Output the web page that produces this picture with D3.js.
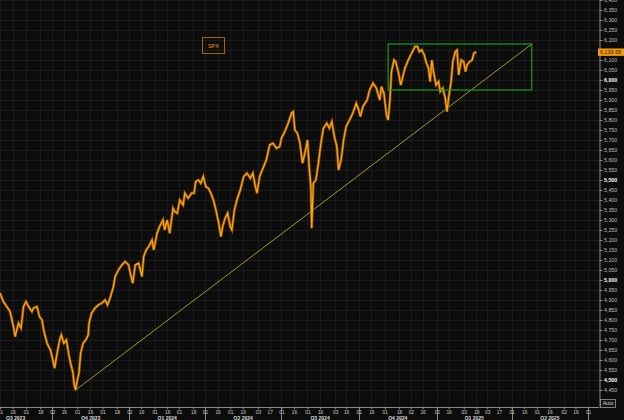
<!DOCTYPE html>
<html>
<head>
<meta charset="utf-8">
<script src="https://cdn.jsdelivr.net/npm/d3@7"></script>
<style>
  html, body { margin: 0; padding: 0; background: #0c0c0c; overflow: hidden; }
  svg { display: block; font-family: "Liberation Sans", Arial, sans-serif; }
</style>
</head>
<body>
<script>
// SPX price
const priceDates = [
  '2023-08-01','2023-08-05','2023-08-09','2023-08-13','2023-08-17','2023-08-19','2023-08-23','2023-08-26','2023-08-29','2023-09-01',
  '2023-09-04','2023-09-08','2023-09-10','2023-09-14','2023-09-17','2023-09-20','2023-09-22','2023-09-26','2023-09-30','2023-10-02',
  '2023-10-05','2023-10-08','2023-10-11','2023-10-13','2023-10-16','2023-10-19','2023-10-22','2023-10-24','2023-10-27','2023-10-28',
  '2023-10-30','2023-11-01','2023-11-03','2023-11-05','2023-11-08','2023-11-11','2023-11-14','2023-11-15','2023-11-18','2023-11-22',
  '2023-11-26','2023-11-30','2023-12-04','2023-12-07','2023-12-10','2023-12-14','2023-12-16','2023-12-20','2023-12-24','2023-12-28',
  '2024-01-01','2024-01-04','2024-01-06','2024-01-09','2024-01-13','2024-01-17','2024-01-19','2024-01-22','2024-01-25','2024-01-29',
  '2024-01-31','2024-02-04','2024-02-07','2024-02-11','2024-02-13','2024-02-16','2024-02-19','2024-02-23','2024-02-25','2024-02-28',
  '2024-03-02','2024-03-06','2024-03-08','2024-03-12','2024-03-16','2024-03-19','2024-03-21','2024-03-24','2024-03-27','2024-03-30',
  '2024-04-02','2024-04-05','2024-04-08','2024-04-11','2024-04-14','2024-04-17','2024-04-20','2024-04-22','2024-04-25','2024-04-28',
  '2024-05-01','2024-05-03','2024-05-06','2024-05-09','2024-05-13','2024-05-17','2024-05-21','2024-05-25','2024-05-28','2024-05-31',
  '2024-06-02','2024-06-05','2024-06-09','2024-06-13','2024-06-17','2024-06-21','2024-06-25','2024-06-29','2024-07-01','2024-07-05',
  '2024-07-09','2024-07-13','2024-07-15','2024-07-17','2024-07-20','2024-07-23','2024-07-26','2024-07-29','2024-08-01','2024-08-03',
  '2024-08-05','2024-08-06','2024-08-07','2024-08-08','2024-08-11','2024-08-14','2024-08-17','2024-08-20','2024-08-24','2024-08-27',
  '2024-08-30','2024-09-02','2024-09-05','2024-09-07','2024-09-10','2024-09-13','2024-09-16','2024-09-20','2024-09-24','2024-09-28',
  '2024-10-01','2024-10-03','2024-10-06','2024-10-11','2024-10-14','2024-10-18','2024-10-22','2024-10-26','2024-10-28','2024-10-31',
  '2024-11-03','2024-11-05','2024-11-07','2024-11-09','2024-11-12','2024-11-14','2024-11-17','2024-11-20','2024-11-22','2024-11-25',
  '2024-11-29','2024-12-03','2024-12-07','2024-12-10','2024-12-12','2024-12-15','2024-12-18','2024-12-20','2024-12-23','2024-12-25',
  '2024-12-27','2024-12-29','2025-01-01','2025-01-04','2025-01-06','2025-01-09','2025-01-12','2025-01-14','2025-01-16','2025-01-19',
  '2025-01-21','2025-01-24','2025-01-26','2025-01-28','2025-01-31','2025-02-03','2025-02-05','2025-02-07','2025-02-10','2025-02-13',
  '2025-02-15','2025-02-18'
];
const priceValues = [
  4935, 4892, 4867, 4842, 4767, 4717, 4784, 4760, 4867, 4892,
  4867, 4842, 4860, 4867, 4817, 4800, 4750, 4684, 4650, 4617,
  4559, 4634, 4700, 4725, 4684, 4700, 4625, 4584, 4534, 4484,
  4450, 4500, 4534, 4634, 4684, 4700, 4725, 4784, 4834, 4859,
  4875, 4884, 4900, 4875, 4909, 4967, 5017, 5050, 5075, 5092,
  5075, 5017, 4984, 5075, 5084, 5017, 5117, 5150, 5167, 5200,
  5150, 5234, 5267, 5300, 5250, 5300, 5234, 5359, 5342, 5334,
  5400, 5375, 5434, 5409, 5434, 5434, 5492, 5500, 5484, 5517,
  5467, 5459, 5434, 5400, 5350, 5292, 5217, 5267, 5309, 5334,
  5267, 5250, 5350, 5400, 5450, 5517, 5534, 5509, 5534, 5467,
  5434, 5517, 5559, 5600, 5675, 5684, 5659, 5667, 5709, 5742,
  5784, 5834, 5842, 5750, 5734, 5684, 5584, 5634, 5700, 5567,
  5467, 5259, 5375, 5484, 5500, 5584, 5684, 5759, 5784, 5759,
  5792, 5717, 5667, 5550, 5600, 5700, 5767, 5800, 5834, 5884,
  5850, 5817, 5867, 5900, 5950, 5984, 5959, 5900, 5967, 5934,
  5825, 5800, 5892, 6042, 6100, 6092, 6042, 5975, 6009, 6059,
  6100, 6134, 6167, 6167, 6142, 6150, 6125, 6092, 6059, 5992,
  6100, 6042, 5975, 5992, 5942, 5959, 5909, 5842, 5909, 5992,
  6092, 6142, 6150, 6025, 6100, 6092, 6042, 6075, 6092, 6100,
  6134, 6139.58
];
const lastPrice = 6139.58;

// drawn annotations
const trendDates = ['2023-10-30', '2025-04-25'];
const trendValues = [4450, 6180];
const boxDates = ['2024-11-05', '2025-04-25'];
const boxValues = [5950, 6180];

// axes
const yTicks = [4450, 4500, 4550, 4600, 4650, 4700, 4750, 4800, 4850, 4900, 4950, 5000,
  5050, 5100, 5150, 5200, 5250, 5300, 5350, 5400, 5450, 5500, 5550, 5600, 5650, 5700,
  5750, 5800, 5850, 5900, 5950, 6000, 6050, 6100, 6150, 6200, 6250, 6300, 6350, 6400];
const xTickDates = [
  '2023-08-01','2023-08-16','2023-09-01','2023-09-18','2023-10-02','2023-10-16','2023-11-01','2023-11-16',
  '2023-12-01','2023-12-18','2024-01-02','2024-01-16','2024-02-01','2024-02-16','2024-03-01','2024-03-18',
  '2024-04-01','2024-04-16','2024-05-01','2024-05-16','2024-06-03','2024-06-17','2024-07-01','2024-07-16',
  '2024-08-01','2024-08-16','2024-09-03','2024-09-16','2024-10-01','2024-10-16','2024-11-01','2024-11-18',
  '2024-12-02','2024-12-16','2025-01-02','2025-01-16','2025-02-03','2025-02-18','2025-03-03','2025-03-17',
  '2025-04-01','2025-04-16','2025-05-01','2025-05-16','2025-06-02','2025-06-16','2025-07-01'
];
const quarterStarts = ['2023-07-01','2023-10-02','2024-01-02','2024-04-01','2024-07-01','2024-10-01',
  '2025-01-02','2025-04-01','2025-07-01','2025-10-01'];

const parse = d3.timeParse('%Y-%m-%d');
const W = 624, H = 420;
const plotRight = 599, plotBottom = 407;

const svg = d3.select('body').append('svg').attr('width', W).attr('height', H);
svg.append('rect').attr('width', W).attr('height', H).attr('fill', '#0c0c0c');

const x = d3.scaleTime()
  .domain([parse('2023-08-01'), parse('2025-07-14')])
  .range([0, plotRight]);
const y = d3.scaleLinear()
  .domain([4365, 6400])
  .range([plotBottom, 0]);

svg.append('defs').append('clipPath').attr('id', 'plot')
  .append('rect').attr('width', plotRight).attr('height', plotBottom);

// grid
const $grid = svg.append('g').attr('clip-path', 'url(#plot)')
  .attr('stroke', '#1b1b1b').attr('stroke-width', 1).attr('shape-rendering', 'crispEdges');
$grid.selectAll('.vg').data(xTickDates).enter().append('line')
  .attr('x1', (d) => Math.round(x(parse(d))) + 0.5)
  .attr('x2', (d) => Math.round(x(parse(d))) + 0.5)
  .attr('y1', 0).attr('y2', plotBottom);
$grid.selectAll('.hg').data(yTicks).enter().append('line')
  .attr('x1', 0).attr('x2', plotRight)
  .attr('y1', (d) => Math.round(y(d)) + 0.5)
  .attr('y2', (d) => Math.round(y(d)) + 0.5);

const $plot = svg.append('g').attr('clip-path', 'url(#plot)');

// trend line
const trend = trendDates.map((d, i) => ({ date: parse(d), value: trendValues[i] }));
$plot.append('line')
  .attr('x1', x(trend[0].date)).attr('y1', y(trend[0].value))
  .attr('x2', x(trend[1].date)).attr('y2', y(trend[1].value))
  .attr('stroke', '#9c9a2c').attr('stroke-width', 1);

// price
const series = priceDates.map((d, i) => ({ date: parse(d), value: priceValues[i] }));
const line = d3.line().x((d) => x(d.date)).y((d) => y(d.value));
$plot.append('path').datum(series)
  .attr('d', line).attr('fill', 'none')
  .attr('stroke', '#8f5500').attr('stroke-width', 2.7).attr('stroke-linejoin', 'miter');
$plot.append('path').datum(series)
  .attr('d', line).attr('fill', 'none')
  .attr('stroke', '#ffa514').attr('stroke-width', 1.2).attr('stroke-linejoin', 'miter');

// green box
$plot.append('rect')
  .attr('x', x(parse(boxDates[0]))).attr('y', y(boxValues[1]))
  .attr('width', x(parse(boxDates[1])) - x(parse(boxDates[0])))
  .attr('height', y(boxValues[0]) - y(boxValues[1]))
  .attr('fill', 'none').attr('stroke', '#1c9c1c').attr('stroke-width', 1.2);

// legend
const $legend = svg.append('g').attr('transform', 'translate(202.5,37.5)');
$legend.append('rect').attr('width', 22).attr('height', 16)
  .attr('fill', 'none').attr('stroke', '#a36500').attr('stroke-width', 1);
$legend.append('text').attr('x', 11).attr('y', 10.3).attr('text-anchor', 'middle')
  .attr('font-size', 5.6).attr('fill', '#e89a18').text('SPX');

// right axis
const yAxis = d3.axisRight(y).tickValues(yTicks).tickSize(3).tickSizeOuter(0).tickPadding(1.5)
  .tickFormat(d3.format(','));
const $yAxis = svg.append('g').attr('transform', `translate(${plotRight + 0.5},0)`).call(yAxis);
$yAxis.select('.domain').attr('stroke', '#8a8a8a');
$yAxis.selectAll('.tick line').attr('stroke', '#8a8a8a');
$yAxis.selectAll('.tick text')
  .attr('font-size', 5.3).attr('fill', (d) => d % 500 === 0 ? '#ffffff' : '#bdbdbd')
  .attr('font-weight', (d) => d % 500 === 0 ? 'bold' : 'normal')
  .attr('font-family', null)
  .style('display', (d) => Math.abs(y(d) - y(lastPrice)) < 6 ? 'none' : null);

// last price tag
const $tag = svg.append('g').attr('transform', `translate(${plotRight - 1},${y(lastPrice)})`);
$tag.append('rect').attr('y', -3.6).attr('width', 27).attr('height', 7.4).attr('fill', '#f29d0a');
$tag.append('text').attr('x', 2).attr('y', 2).attr('font-size', 5.4)
  .attr('fill', '#2a1700').text(d3.format(',.2f')(lastPrice));

// bottom axis
const xAxis = d3.axisBottom(x).tickValues(xTickDates.map(parse)).tickSize(2).tickSizeOuter(0)
  .tickPadding(1).tickFormat(d3.timeFormat('%d'));
const $xAxis = svg.append('g').attr('transform', `translate(0,${plotBottom + 0.5})`).call(xAxis);
$xAxis.select('.domain').attr('stroke', '#8a8a8a');
$xAxis.selectAll('.tick line').attr('stroke', '#8a8a8a');
$xAxis.selectAll('.tick text').attr('font-size', 4.8).attr('fill', '#cfcfcf').attr('font-family', null);
$xAxis.select('.domain').attr('d', `M0,0H${plotRight}`);

// quarter separators and labels
const quarters = quarterStarts.slice(0, -1).map((d, i) => {
  const start = parse(d);
  const next = parse(quarterStarts[i + 1]);
  return { start, next, label: 'Q' + (Math.floor(start.getMonth() / 3) + 1) + ' ' + start.getFullYear() };
});
const $q = svg.append('g');
$q.selectAll('.qsep').data(quarters.filter((q) => x(q.start) >= 0 && x(q.start) <= plotRight))
  .enter().append('line')
  .attr('x1', (q) => Math.round(x(q.start)) + 0.5).attr('x2', (q) => Math.round(x(q.start)) + 0.5)
  .attr('y1', plotBottom).attr('y2', H)
  .attr('stroke', '#8a8a8a').attr('shape-rendering', 'crispEdges');
$q.selectAll('.qlab').data(quarters).enter().append('text')
  .attr('font-size', 5).attr('font-weight', 'bold').attr('fill', '#dcdcdc')
  .attr('text-anchor', 'middle').attr('y', 419.6)
  .text((q) => q.label)
  .attr('x', function (q) {
    const half = this.getComputedTextLength() / 2;
    const mid = (x(q.start) + x(q.next)) / 2;
    return Math.max(mid, half + 6);
  })
  .style('display', function (q) {
    return (x(q.start) + x(q.next)) / 2 > plotRight ? 'none' : null;
  });

// Auto button
const $auto = svg.append('g').attr('transform', `translate(${plotRight + 1.5},399.5)`);
$auto.append('rect').attr('width', 15).attr('height', 8)
  .attr('fill', '#141414').attr('stroke', '#9a9a9a').attr('stroke-width', 0.8);
$auto.append('text').attr('x', 7.5).attr('y', 5.9).attr('text-anchor', 'middle')
  .attr('font-size', 5.2).attr('fill', '#d8d8d8').text('Auto');
</script>
</body>
</html>
